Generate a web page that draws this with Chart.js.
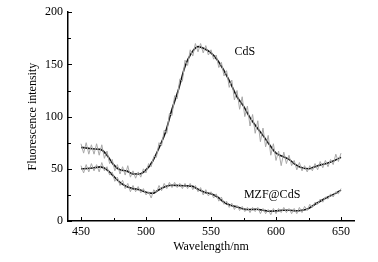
<!DOCTYPE html>
<html>
  <head>
    <title>Fluorescence spectra</title>
    <style>
      body { margin: 0; background: #fff; }
      #wrap { width: 378px; height: 262px; }
    </style>
    <script src="https://cdn.jsdelivr.net/npm/chart.js"></script>
  </head>
  <body>
    <div id="wrap"><canvas id="chart" width="378" height="262"></canvas></div>

    <script>
      // raw spectra, 2 nm step
      var rawX = [];
      for (var w = 450; w <= 650; w += 2) rawX.push(w);
      var cdsRaw = [74, 65, 75, 64, 73, 64, 74, 63, 73, 60, 67, 55, 59, 48, 54, 45, 52, 44, 53, 42,
        48, 41, 47, 42, 50, 46, 55, 52, 62, 61, 75, 72, 87, 84, 103, 101, 120, 117, 136, 134,
        154, 149, 164, 158, 170, 162, 170, 161, 168, 159, 164, 155, 159, 147, 152, 139, 144, 128, 135, 116,
        125, 107, 119, 100, 110, 91, 102, 84, 96, 76, 89, 71, 82, 63, 74, 58, 67, 53, 66, 55,
        63, 53, 58, 49, 56, 48, 53, 47, 53, 48, 55, 49, 57, 51, 58, 52, 59, 54, 64, 57, 65];
      var mzfRaw = [53, 46, 54, 47, 55, 48, 54, 47, 56, 48, 52, 44, 47, 38, 42, 34, 39, 31, 36, 28,
        34, 28, 33, 27, 31, 25, 28, 22, 30, 27, 34, 29, 36, 31, 37, 32, 37, 32, 36, 31,
        36, 31, 36, 30, 34, 28, 32, 25, 30, 24, 28, 22, 26, 19, 23, 16, 19, 13, 17, 11,
        15, 10, 14, 9, 13, 8, 13, 9, 13, 7, 12, 7, 11, 6, 12, 7, 12, 8, 13, 8,
        12, 7, 12, 7, 13, 8, 14, 10, 16, 13, 18, 16, 21, 18, 23, 21, 26, 23, 28, 26, 31];

      // smoothed curves, 5 nm step
      var fitX = [];
      for (var f = 450; f <= 650; f += 5) fitX.push(f);
      var cdsFit = [70.5, 69.8, 69, 68.6, 63, 54, 49, 48, 45, 45, 49, 57, 70, 85, 107, 126, 148, 161, 167, 165,
        161, 154, 144, 132, 119, 110, 99, 90, 82, 73, 65, 62, 59, 54, 51, 50, 52, 54, 55.5, 58, 61];
      var mzfFit = [50, 50.3, 51, 51.8, 49, 43, 37, 33, 31, 30, 27.5, 26.5, 30, 33, 34.3, 34, 33.7, 33.4, 30.5, 27.5,
        26, 23, 18, 15, 13.4, 11.5, 11, 11.2, 10.3, 9.4, 9.7, 10.3, 10.3, 9.7, 10.3, 12, 16, 19.7, 23, 26, 29.6];

      var xTicks = [450, 475, 500, 525, 550, 575, 600, 625, 650];
      var yTicks = [0, 25, 50, 75, 100, 125, 150, 175, 200];
      var labelText = ["CdS", "MZF@CdS"];
      var labelX = [576, 597];
      var labelY = [162, 25];

      function pts(xs, ys) {
        return xs.map(function (x, i) { return { x: x, y: ys[i] }; });
      }

      var font = "'Liberation Serif', 'Times New Roman', serif";

      // inward tick marks + curve labels
      var decor = {
        id: "decor",
        afterDraw: function (chart) {
          var ctx = chart.ctx, xs = chart.scales.x, ys = chart.scales.y, a = chart.chartArea;
          ctx.save();
          ctx.strokeStyle = "#000";
          ctx.lineWidth = 1;
          xs.ticks.forEach(function (t) {
            var px = Math.round(xs.getPixelForValue(t.value)) + 0.5;
            var len = t.value % 50 === 0 ? 4 : 3;
            ctx.beginPath();
            ctx.moveTo(px, a.bottom);
            ctx.lineTo(px, a.bottom - len);
            ctx.stroke();
          });
          ys.ticks.forEach(function (t) {
            var py = Math.round(ys.getPixelForValue(t.value)) + 0.5;
            var len = t.value % 50 === 0 ? 4 : 3;
            ctx.beginPath();
            ctx.moveTo(a.left, py);
            ctx.lineTo(a.left + len, py);
            ctx.stroke();
          });
          ctx.fillStyle = "#000";
          ctx.font = "12px " + font;
          ctx.textAlign = "center";
          ctx.textBaseline = "middle";
          labelText.forEach(function (txt, i) {
            ctx.fillText(txt, xs.getPixelForValue(labelX[i]), ys.getPixelForValue(labelY[i]));
          });
          ctx.restore();
        },
      };

      var ctx = document.getElementById("chart").getContext("2d");
      var chart = new Chart(ctx, {
        type: "line",
        data: {
          datasets: [
            { data: pts(rawX, cdsRaw), borderColor: "#a8a8a8", borderWidth: 1, pointRadius: 0, tension: 0 },
            { data: pts(rawX, mzfRaw), borderColor: "#a8a8a8", borderWidth: 1, pointRadius: 0, tension: 0 },
            { data: pts(fitX, cdsFit), borderColor: "#111", borderWidth: 1.6, pointRadius: 0, cubicInterpolationMode: "monotone" },
            { data: pts(fitX, mzfFit), borderColor: "#111", borderWidth: 1.6, pointRadius: 0, cubicInterpolationMode: "monotone" },
          ],
        },
        options: {
          responsive: false,
          animation: false,
          layout: { padding: { left: 26, right: 24, top: 7, bottom: 8 } },
          plugins: { legend: { display: false }, tooltip: { enabled: false } },
          scales: {
            x: {
              type: "linear",
              min: 440,
              max: 660,
              afterBuildTicks: function (s) { s.ticks = xTicks.map(function (v) { return { value: v }; }); },
              afterFit: function (s) { s.height = 33; },
              grid: { display: false, drawTicks: false },
              border: { display: true, color: "#000", width: 1.5 },
              ticks: {
                color: "#000",
                font: { family: font, size: 12 },
                padding: 4,
                maxRotation: 0,
                autoSkip: false,
                callback: function (v) { return v % 50 === 0 ? v : ""; },
              },
              title: { display: true, text: "Wavelength/nm", color: "#000", font: { family: font, size: 12 }, padding: { top: 0, bottom: 0 } },
            },
            y: {
              min: 0,
              max: 200,
              afterBuildTicks: function (s) { s.ticks = yTicks.map(function (v) { return { value: v }; }); },
              afterFit: function (s) { s.width = 42; },
              grid: { display: false, drawTicks: false },
              border: { display: true, color: "#000", width: 1.5 },
              ticks: {
                color: "#000",
                font: { family: font, size: 12 },
                padding: 5,
                autoSkip: false,
                callback: function (v) { return v % 50 === 0 ? v : ""; },
              },
              title: { display: true, text: "Fluorescence intensity", color: "#000", font: { family: font, size: 12 }, padding: { top: 0, bottom: 0 } },
            },
          },
        },
        plugins: [decor],
      });
    </script>
  </body>
</html>
